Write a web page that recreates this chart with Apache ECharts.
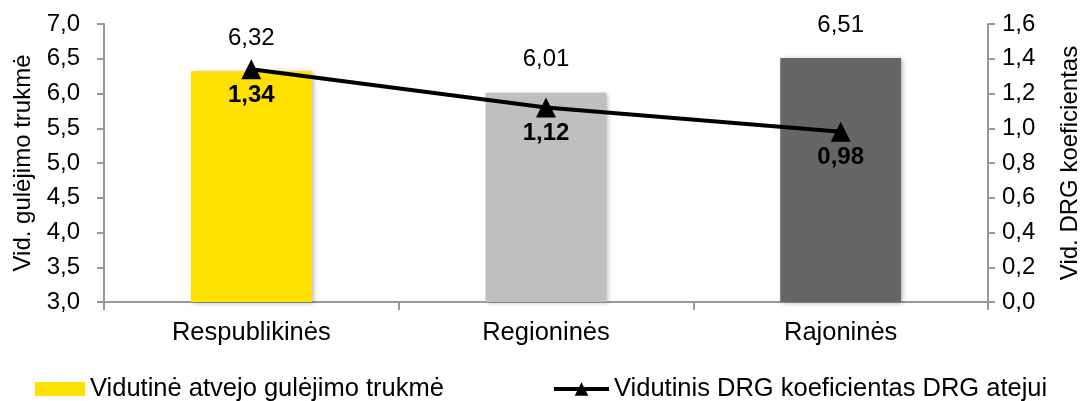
<!DOCTYPE html>
<html>
<head>
<meta charset="utf-8">
<script src="https://cdn.jsdelivr.net/npm/echarts@6/dist/echarts.min.js"></script>
<style>
  html, body { margin: 0; padding: 0; background: #fff; }
  #chart { width: 1084px; height: 401px; }
</style>
</head>
<body>
<div id="chart"></div>
<script>
// data
var categories = ['Respublikinės', 'Regioninės', 'Rajoninės'];
var stayValues = [6.32, 6.01, 6.51];
var drgValues = [1.34, 1.12, 0.98];
var barColors = ['#FFE100', '#BFBFBF', '#666666'];

var barName = 'Vidutinė atvejo gulėjimo trukmė';
var lineName = 'Vidutinis DRG koeficientas DRG atejui';

function comma(v, digits) {
    return v.toFixed(digits).replace('.', ',');
}

var font = 'Liberation Sans, Arial, sans-serif';
var fs = 24;
var fsBig = 25.5;

var chart = echarts.init(document.getElementById('chart'));

var option = {
    animation: false,
    textStyle: { fontFamily: font },
    grid: {
        left: 104,
        right: 96,
        top: 24,
        bottom: 99,
        outerBoundsMode: 'none',
        containLabel: false
    },
    legend: [{
        left: 30,
        top: 371,
        itemWidth: 50,
        itemHeight: 14,
        itemGap: 5,
        textStyle: { fontSize: fsBig, color: '#000', fontFamily: font },
        data: [{ name: barName, icon: 'rect', itemStyle: { color: '#FFE100' } }]
    }, {
        left: 547,
        top: 371,
        itemWidth: 55,
        itemHeight: 17,
        textStyle: { fontSize: fsBig, color: '#000', fontFamily: font },
        data: [{ name: lineName, lineStyle: { width: 4, color: '#000' } }]
    }],
    xAxis: {
        type: 'category',
        data: categories,
        axisLine: { lineStyle: { color: '#999', width: 2 } },
        axisTick: { show: true, length: 8, lineStyle: { color: '#999', width: 2 } },
        axisLabel: { fontSize: fsBig, color: '#000', margin: 18, fontFamily: font }
    },
    yAxis: [{
        type: 'value',
        min: 3,
        max: 7,
        interval: 0.5,
        name: 'Vid. gulėjimo trukmė',
        nameLocation: 'middle',
        nameGap: 69,
        nameRotate: 90,
        nameTextStyle: { fontSize: fs, color: '#000', fontFamily: font },
        axisLine: { show: true, lineStyle: { color: '#999', width: 2 } },
        axisTick: { show: true, length: 7, lineStyle: { color: '#999', width: 2 } },
        splitLine: { show: false },
        axisLabel: {
            fontSize: fs, color: '#000', margin: 24, fontFamily: font,
            formatter: function (v) { return comma(v, 1); }
        }
    }, {
        type: 'value',
        min: 0,
        max: 1.6,
        interval: 0.2,
        name: 'Vid. DRG koeficientas',
        nameLocation: 'middle',
        nameGap: 70,
        nameRotate: 90,
        nameTextStyle: { fontSize: fs, color: '#000', fontFamily: font },
        axisLine: { show: true, lineStyle: { color: '#999', width: 2 } },
        axisTick: { show: true, length: 7, lineStyle: { color: '#999', width: 2 } },
        splitLine: { show: false },
        axisLabel: {
            fontSize: fs, color: '#000', margin: 14, fontFamily: font,
            formatter: function (v) { return comma(v, 1); }
        }
    }],
    series: [{
        name: barName,
        type: 'bar',
        yAxisIndex: 0,
        barWidth: '41%',
        data: stayValues.map(function (v, i) {
            return {
                value: v,
                itemStyle: {
                    color: barColors[i],
                    shadowBlur: 5,
                    shadowOffsetX: 2,
                    shadowOffsetY: 1,
                    shadowColor: 'rgba(0,0,0,0.3)'
                }
            };
        }),
        label: {
            show: true,
            position: 'top',
            distance: 21,
            fontSize: fs,
            color: '#000',
            fontFamily: font,
            formatter: function (p) { return comma(p.value, 2); }
        }
    }, {
        name: lineName,
        type: 'line',
        yAxisIndex: 1,
        data: drgValues,
        symbol: 'triangle',
        symbolSize: 20,
        lineStyle: { color: '#000', width: 4 },
        itemStyle: { color: '#000' },
        z: 5,
        label: {
            show: true,
            position: 'bottom',
            distance: 4,
            fontSize: fs,
            fontWeight: 'bold',
            color: '#000',
            fontFamily: font,
            formatter: function (p) { return comma(p.value, 2); }
        }
    }]
};

chart.setOption(option);
</script>
</body>
</html>
